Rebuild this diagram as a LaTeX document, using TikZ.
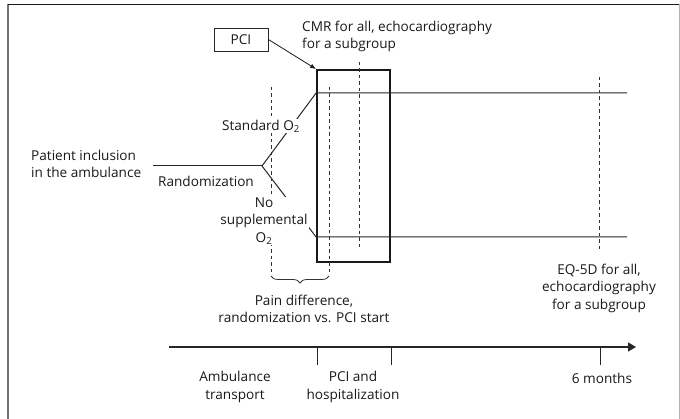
\documentclass[tikz,border=0pt]{standalone}
\usepackage{fontspec}
\setmainfont{Open Sans}
\usetikzlibrary{arrows.meta, positioning, decorations.pathreplacing}
\tikzset{
  txt/.style={
    inner sep=1pt, align=center, text=black!90,
    font=\fontsize{13.6}{17.5}\selectfont
  },
  masked/.style={txt, fill=white},
  pcinode/.style={
    draw=black!85, rectangle, line width=0.9pt,
    minimum width=54pt, minimum height=23pt, txt
  },
  stayblock/.style={
    draw=black!90, rectangle, line width=1.8pt,
    minimum width=73pt, minimum height=192pt, inner sep=0pt
  },
  armline/.style={draw=black!85, line width=1pt},
  guide/.style={draw=black!80, line width=0.8pt, dash pattern=on 3.5pt off 3pt},
  arrow/.style={-{Latex[length=6pt, width=4.5pt]}, draw=black!90, line width=0.8pt},
  timeaxis/.style={-{Triangle[length=8pt, width=9pt]}, draw=black!85, line width=1.1pt}
}
\begin{document}
\begin{tikzpicture}[x=1pt, y=-1pt]
  \useasboundingbox (0,0) rectangle (680,419);
  % frame
  \draw[black!55, line width=1.2pt] (8,425) -- (8,4.5);
  \draw[black!90, line width=1.2pt] (8,4.5) -- (679,4.5);
  \draw[black!30, line width=1pt] (679,4.5) -- (679,425);

  % hospital stay block and PCI marker
  \node[stayblock] (stay) at (353.5,166) {};
  \node[pcinode] (pci) at (241,39.5) {PCI};
  \draw[arrow] (pci.east) -- (stay.north west);

  % randomization arms
  \coordinate (incl) at (153,166);
  \coordinate (fork) at (262,166);
  \coordinate (stdin) at (stay.west |- 0,93);
  \coordinate (stdout) at (627,93);
  \coordinate (noin) at (stay.west |- 0,237);
  \coordinate (noout) at (627,237);
  \draw[armline] (incl) -- (fork);
  \draw[armline] (fork) -- (stdin) -- (stdout);
  \draw[armline] (fork) -- (noin) -- (noout);

  % measurement time points
  \draw[guide] (271,87) -- (271,275);
  \draw[guide] (329,87) -- (329,275);
  \draw[guide] (359,62) -- (359,248);
  \draw[guide] (599,77) -- (599,250);
  \draw[draw=black!80, line width=0.8pt, decorate,
        decoration={brace, mirror, amplitude=7pt}] (271,276) -- (329,276);

  % labels
  \node[txt, anchor=west, align=left] (incltxt) at (30,164) {Patient inclusion\\in the ambulance};
  \node[masked] (randtxt) at (206,181) {Randomization};
  \node[masked] (stdtxt) at (261,126) {Standard O\textsubscript{2}};
  \node[masked] (notxt) at (264,221) {No\\supplemental\\O\textsubscript{2}};
  \node[txt, anchor=west, align=left] (cmrtxt) at (301,36.5) {CMR for all, echocardiography\\for a subgroup};
  \node[txt] (paintxt) at (304,309) {Pain difference,\\randomization vs. PCI start};
  \node[txt] (eqtxt) at (599,288) {EQ-5D for all,\\echocardiography\\for a subgroup};

  % timeline
  \coordinate (tstart) at (169,347);
  \coordinate (tend) at (636,347);
  \draw[timeaxis] (tstart) -- (tend);
  \foreach \tx in {317,391,600}
    \draw[draw=black!85, line width=0.9pt] (\tx,347) -- (\tx,365);
  \node[txt] (ambtxt) at (235,387) {Ambulance\\transport};
  \node[txt] (hosptxt) at (353,387) {PCI and\\hospitalization};
  \node[txt] (sixtxt) at (602,378) {6 months};
\end{tikzpicture}
\end{document}
